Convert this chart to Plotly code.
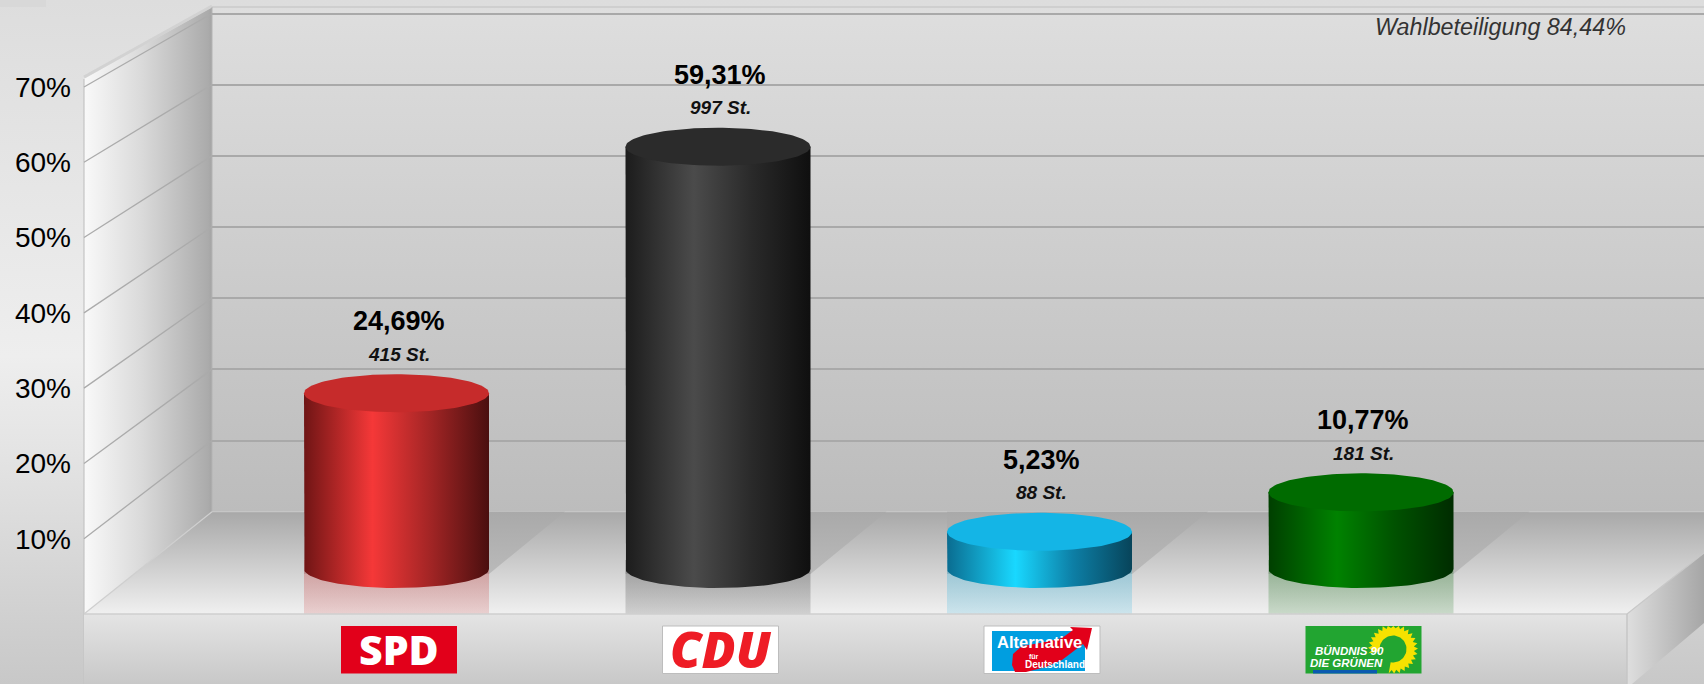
import numpy as np
import plotly.graph_objects as go

# ---- data ----
parties = ["SPD", "CDU", "AfD", "GRÜNE"]
shares = [24.69, 59.31, 5.23, 10.77]
share_labels = ["24,69%", "59,31%", "5,23%", "10,77%"]
seat_labels = ["415 St.", "997 St.", "88 St.", "181 St."]
tick_vals = [10, 20, 30, 40, 50, 60, 70]
tick_text = ["10%", "20%", "30%", "40%", "50%", "60%", "70%"]
turnout = "Wahlbeteiligung 84,44%"

side_colors = [
    ["#6f1515", "#f53838", "#a32525", "#4a0f0f"],
    ["#1c1c1c", "#4b4b4b", "#2a2a2a", "#0f0f0f"],
    ["#0a6c90", "#19d8ff", "#0d7fa6", "#07445a"],
    ["#003f00", "#008200", "#005200", "#002c00"],
]
top_colors = ["#c62b2b", "#2b2b2b", "#14b5e6", "#006b00"]
mirror_colors = ["200,40,40", "40,40,40", "20,170,220", "0,100,0"]

W, H = 1704, 684
FAMILY = "Liberation Sans"

# geometry of the drawing (pixels)
FRONT_L, FRONT_R, BACK_L = 84, 1627, 212
FRONT_0, FRONT_70 = 614, 87
BACK_0, BACK_70, WALL_TOP = 511.7, 13.5, 7
BAR_0_PX, BAR_PX_PER_UNIT = 569, 7.12
BAR_STEP, BAR_FIRST = 321.5, 396.5
BAR_HALF_W, ELL_H = 92.5, 19


def front_px(v):
    return FRONT_0 + (FRONT_70 - FRONT_0) * v / 70


def back_px(v):
    return BACK_0 + (BACK_70 - BACK_0) * v / 70


fig = go.Figure()


def poly(xs, ys, color=None, grad=None, xa="x", ya="y"):
    kw = dict(x=list(xs), y=list(ys), mode="lines", line=dict(width=0), fill="toself",
              xaxis=xa, yaxis=ya, hoverinfo="skip", showlegend=False)
    if grad is not None:
        kw["fillgradient"] = grad
        kw["fillcolor"] = "rgba(0,0,0,0)"
    else:
        kw["fillcolor"] = color
    fig.add_trace(go.Scatter(**kw))


def seg(xs, ys, color, width=1.0):
    fig.add_trace(go.Scatter(x=list(xs), y=list(ys), mode="lines",
                             line=dict(color=color, width=width), xaxis="x", yaxis="y",
                             hoverinfo="skip", showlegend=False))


def vgrad(y0, y1, stops):
    return dict(type="vertical", start=y0, stop=y1, colorscale=stops)


def hgrad(x0, x1, stops):
    return dict(type="horizontal", start=x0, stop=x1, colorscale=stops)


# page background
poly([0, W, W, 0], [0, 0, H, H],
     grad=vgrad(0, H, [[0, "#dddddd"], [0.52, "#eeeeee"], [0.66, "#e4e4e4"], [1, "#c8c8c8"]]))
poly([0, 46, 46, 0], [0, 0, 7, 7], color="#d8d8d8")

# back wall
poly([BACK_L, W, W, BACK_L], [WALL_TOP, WALL_TOP, BACK_0, BACK_0],
     grad=vgrad(WALL_TOP, BACK_0, [[0, "#dedede"], [1, "#bcbcbc"]]))
seg([BACK_L, W], [WALL_TOP, WALL_TOP], "#c0c0c0", 1)

# left wall
poly([FRONT_L, BACK_L, BACK_L, FRONT_L], [79, WALL_TOP, BACK_0, FRONT_0],
     grad=hgrad(FRONT_L, BACK_L, [[0, "#f9f9f9"], [0.45, "#dadada"], [0.97, "#ababab"], [1, "#a4a4a4"]]))
seg([FRONT_L, BACK_L], [77, WALL_TOP - 1], "#d2d2d2", 3)
seg([FRONT_L, FRONT_L], [79, H], "#c4c4c4", 1.2)
seg([BACK_L, BACK_L], [WALL_TOP, BACK_0], "#b4b4b4", 1)
for v in tick_vals:
    seg([FRONT_L, BACK_L], [front_px(v), back_px(v)], "#ababab", 1.3)

# floor
poly([BACK_L, W, W, FRONT_R, FRONT_L], [BACK_0, BACK_0, 553, FRONT_0, FRONT_0],
     grad=vgrad(BACK_0, FRONT_0, [[0, "#a8a8a8"], [1, "#f0f0f0"]]))
seg([BACK_L, W], [BACK_0, BACK_0], "#c6c6c6", 1.2)
seg([FRONT_L, BACK_L], [FRONT_0, BACK_0], "#cfcfcf", 1.2)

# floor shadow behind each bar and mirror image under it
for i, (c, m) in enumerate(zip(parties, mirror_colors)):
    cx = BAR_FIRST + i * BAR_STEP
    l, r = cx - BAR_HALF_W, cx + BAR_HALF_W
    poly([l, r + 76, r, l], [BACK_0, BACK_0, 574, 574],
         grad=vgrad(BACK_0, 574, [[0, "#a9a9a9"], [1, "#bababa"]]))
    poly([l, r, r, l], [560, 560, FRONT_0, FRONT_0],
         grad=vgrad(565, FRONT_0, [[0, f"rgba({m},0.30)"], [1, f"rgba({m},0.16)"]]))

# plinth
poly([FRONT_L, FRONT_R, FRONT_R, FRONT_L], [FRONT_0, FRONT_0, H, H],
     grad=vgrad(FRONT_0, H, [[0, "#e4e4e4"], [1, "#c8c8c8"]]))
poly([FRONT_R, W, W, 1632, FRONT_R], [FRONT_0, 553, 623, H, H],
     grad=hgrad(FRONT_R, W, [[0, "#dedede"], [1, "#a6a6a6"]]))
seg([FRONT_L, FRONT_R], [FRONT_0, FRONT_0], "#cfcfcf", 1.5)
seg([FRONT_R, FRONT_R], [FRONT_0, H], "#c6c6c6", 1.5)
seg([FRONT_R, W], [FRONT_0, 553], "#c8c8c8", 1.2)

# ---- logos ----
LOGO_T, LOGO_B = 626, 673.5


def logo_box(i, fill, border=None):
    x0 = 341 + i * 321.5
    poly([x0, x0 + 116, x0 + 116, x0], [LOGO_T, LOGO_T, LOGO_B, LOGO_B], color=fill)
    if border:
        seg([x0, x0 + 116, x0 + 116, x0, x0], [LOGO_T, LOGO_T, LOGO_B, LOGO_B, LOGO_T], border, 1)
    return x0


logo_box(0, "#e2001a")
logo_box(1, "#ffffff", "#bdbdbd")
x_afd = logo_box(2, "#ffffff", "#bdbdbd")
poly([x_afd + 8, x_afd + 101, x_afd + 101, x_afd + 8], [631, 631, 671, 671], color="#009ee0")
swoosh_x = [1012, 1013, 1022, 1040, 1062, 1073, 1070, 1092, 1087, 1083, 1062, 1046, 1026, 1015]
swoosh_y = [665, 654, 646, 643, 638, 630, 627, 628, 650, 644, 660, 667, 672, 672]
poly(swoosh_x, swoosh_y, color="#e2001a")
x_gr = logo_box(3, "#22a531")
cx_s, cy_s = 1393, 649
ang = np.radians(np.linspace(-100, 190, 47))
rad = np.where(np.arange(47) % 2 == 0, 25, 21)
ox = cx_s + rad * np.cos(ang)
oy = np.clip(cy_s - rad * np.sin(ang), LOGO_T, LOGO_B)
ix = cx_s + 13.5 * np.cos(ang[::-1])
iy = cy_s - 13.5 * np.sin(ang[::-1])
poly(np.r_[ox, ix], np.r_[oy, iy], color="#f6e200")
poly([1313, 1377, 1377, 1313], [670, 670, LOGO_B, LOGO_B], color="#0a5ab0")

# ---- back-wall grid (real axis grid) ----
fig.add_trace(go.Scatter(x=[0, 1], y=[0, 70], mode="lines", line=dict(width=0), opacity=0,
                         xaxis="x2", yaxis="y2", hoverinfo="skip", showlegend=False))
# ---- value axis with the tick labels ----
fig.add_trace(go.Scatter(x=[FRONT_L] * len(tick_vals), y=tick_vals, mode="lines", line=dict(width=0),
                         opacity=0, xaxis="x", yaxis="y4", hoverinfo="skip", showlegend=False))

# ---- cylinders ----
half_w = BAR_HALF_W / BAR_STEP
ell = ELL_H / BAR_PX_PER_UNIT
theta = np.linspace(0, 2 * np.pi, 121)
low = np.linspace(np.pi, 2 * np.pi, 61)
for i, v in enumerate(shares):
    cs = side_colors[i]
    body_x = np.r_[i - half_w, i + half_w * np.cos(low), i + half_w]
    body_y = np.r_[v, ell * np.sin(low), v]
    poly(body_x, body_y, xa="x3", ya="y3",
         grad=hgrad(i - half_w, i + half_w,
                    [[0, cs[0]], [0.37, cs[1]], [0.68, cs[2]], [1, cs[3]]]))
    poly(i + half_w * np.cos(theta), v + ell * np.sin(theta), color=top_colors[i], xa="x3", ya="y3")

# ---- annotations ----
ann = []
for i, v in enumerate(shares):
    ann.append(dict(xref="x3", yref="y3", x=i, y=v, yshift=72, xshift=2, text=f"<b>{share_labels[i]}</b>",
                    showarrow=False, font=dict(family=FAMILY, size=27, color="#000000")))
    ann.append(dict(xref="x3", yref="y3", x=i, y=v, yshift=39, xshift=2, text=f"<b><i>{seat_labels[i]}</i></b>",
                    showarrow=False, font=dict(family=FAMILY, size=19, color="#111111")))
ann.append(dict(xref="x", yref="y", x=1628, y=27, xanchor="right", text=f"<i>{turnout}</i>",
                showarrow=False, font=dict(family=FAMILY, size=23.3, color="#333333")))


def logo_text(x, y, text, size, color, family=FAMILY, weight=None):
    font = dict(family=family, size=size, color=color)
    if weight:
        font["weight"] = weight
    ann.append(dict(xref="x", yref="y", x=x, y=y, text=text, showarrow=False, font=font))


logo_text(399, 649, "SPD", 41, "#ffffff", family="Open Sans", weight=800)
logo_text(720.5, 649, "<i>CDU</i>", 50, "#ee1c25", family="Open Sans", weight=800)
logo_text(1039, 641.5, "<b>Alternative</b>", 16.5, "#ffffff")
logo_text(1034, 656.5, "<b>für</b>", 7, "#ffffff")
logo_text(1055, 664, "<b>Deutschland</b>", 10, "#ffffff")
logo_text(1349, 651, "<b><i>BÜNDNIS 90</i></b>", 11.5, "#ffffff")
logo_text(1346.5, 663, "<b><i>DIE GRÜNEN</i></b>", 11.5, "#ffffff")


def dom(px_bottom, px_top):
    return [(H - px_bottom) / H, (H - px_top) / H]


bar_lo, bar_hi = -5, 79
grid_hi = 71
fig.update_layout(
    template="none",
    width=W, height=H, autosize=False,
    margin=dict(l=0, r=0, t=0, b=0, pad=0),
    paper_bgcolor="#e6e6e6", plot_bgcolor="rgba(0,0,0,0)",
    showlegend=False, hovermode=False, annotations=ann,
    xaxis=dict(range=[0, W], domain=[0, 1], visible=False, fixedrange=True, anchor="y"),
    yaxis=dict(range=[H, 0], domain=[0, 1], visible=False, fixedrange=True, anchor="x"),
    xaxis3=dict(range=[-BAR_FIRST / BAR_STEP, (W - BAR_FIRST) / BAR_STEP], domain=[0, 1],
                visible=False, fixedrange=True, anchor="y3"),
    xaxis2=dict(range=[0, 1], domain=[BACK_L / W, 1], visible=False, fixedrange=True, anchor="y2"),
    yaxis2=dict(range=[0, grid_hi], domain=dom(BACK_0, back_px(grid_hi)), anchor="x2", fixedrange=True,
                tickvals=tick_vals, showticklabels=False, ticks="", showgrid=True,
                gridcolor="#a9a9a9", gridwidth=1.5, zeroline=False, showline=False),
    yaxis3=dict(range=[bar_lo, bar_hi],
                domain=dom(BAR_0_PX - bar_lo * BAR_PX_PER_UNIT, BAR_0_PX - bar_hi * BAR_PX_PER_UNIT),
                visible=False, fixedrange=True, anchor="x3"),
    yaxis4=dict(range=[0, 70], domain=dom(FRONT_0, FRONT_70), anchor="free", position=71 / W,
                side="left", fixedrange=True, tickvals=tick_vals, ticktext=tick_text, ticks="",
                showgrid=False, zeroline=False, showline=False, automargin=False,
                tickfont=dict(family=FAMILY, size=28, color="#000000")),
)

fig.write_html("out.html", config=dict(displayModeBar=False),
               post_script="document.body.style.margin='0';document.body.style.overflow='hidden';")
